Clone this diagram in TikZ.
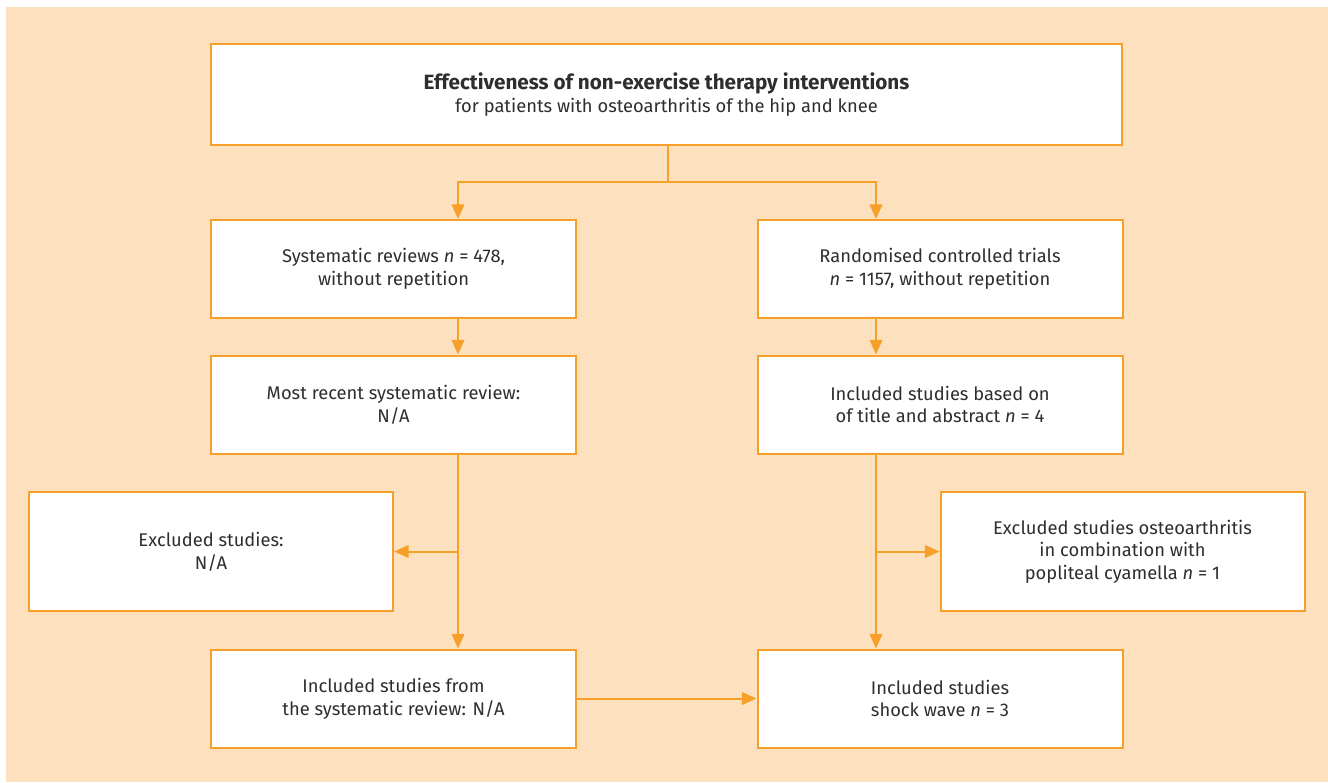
\documentclass[tikz,border=0pt]{standalone}
\usepackage{fontspec}
\setmainfont{Fira Sans}
\usetikzlibrary{arrows.meta}
\definecolor{peach}{HTML}{FDE1BF}
\definecolor{flow}{HTML}{F7A029}
\definecolor{ink}{HTML}{2E2E2E}
\tikzset{
  box/.style={draw=flow, line width=1.5pt, fill=white, align=center, text=ink,
    font=\fontsize{13.75}{17}\selectfont, inner sep=0pt},
  wide/.style={box, minimum width=273.75pt, minimum height=73.5pt},
  side/.style={box, minimum width=273pt, minimum height=89.25pt},
  link/.style={draw=flow, line width=1.5pt, -{Triangle[length=11pt,width=9.5pt]}},
  plain/.style={draw=flow, line width=1.5pt}
}
\begin{document}
\begin{tikzpicture}[x=0.75pt,y=-0.75pt]
  \useasboundingbox (0,0) rectangle (1328,782);
  \fill[peach] (6,7) rectangle (1328,782);

  % title box
  \node[box, minimum width=683.25pt, minimum height=75.75pt] (top) at (666.5,94.5)
    {{\fontsize{15.5}{17}\selectfont\bfseries Effectiveness of non-exercise therapy interventions}\\
     for patients with osteoarthritis of the hip and knee};

  % second row
  \node[wide] (sr) at (393.5,269)
    {Systematic reviews \textit{n} = 478,\\ without repetition};
  \node[wide] (rct) at (940,269)
    {Randomised controlled trials\\ \textit{n} = 1157, without repetition};

  % third row
  \node[wide] (recent) at (393.5,404.5)
    {Most recent systematic review:\\ N/A};
  \node[wide] (title) at (940,404.5)
    {Included studies based on\\ of title and abstract \textit{n} = 4};

  % exclusions
  \node[side] (exl) at (211,551.5)
    {Excluded studies:\\ N/A};
  \node[side] (exr) at (1122.5,551.5)
    {Excluded studies osteoarthritis\\ in combination with\\ popliteal cyamella \textit{n} = 1};

  % bottom row
  \node[wide] (incl) at (393.5,698.5)
    {Included studies from\\ the systematic review: N/A};
  \node[wide] (shock) at (940,698.5)
    {Included studies\\ shock wave \textit{n} = 3};

  % split below the title box
  \coordinate (split) at (668,182);
  \draw[plain] (top.south -| split) -- (split);
  \draw[link] (split) -| (sr.north -| 458,0);
  \draw[link] (split) -| (rct.north -| 876,0);

  % left column
  \draw[link] (sr.south -| 458,0) -- (recent.north -| 458,0);
  \draw[link] (recent.south -| 458,0) -- (incl.north -| 458,0);
  \coordinate (lb) at (458,551.5);
  \draw[link] (lb) -- (exl.east);

  % right column
  \draw[link] (rct.south -| 876,0) -- (title.north -| 876,0);
  \draw[link] (title.south -| 876,0) -- (shock.north -| 876,0);
  \coordinate (rb) at (876,551.5);
  \draw[link] (rb) -- (exr.west);

  % across the bottom
  \draw[link] (incl.east) -- (shock.west);
\end{tikzpicture}
\end{document}
